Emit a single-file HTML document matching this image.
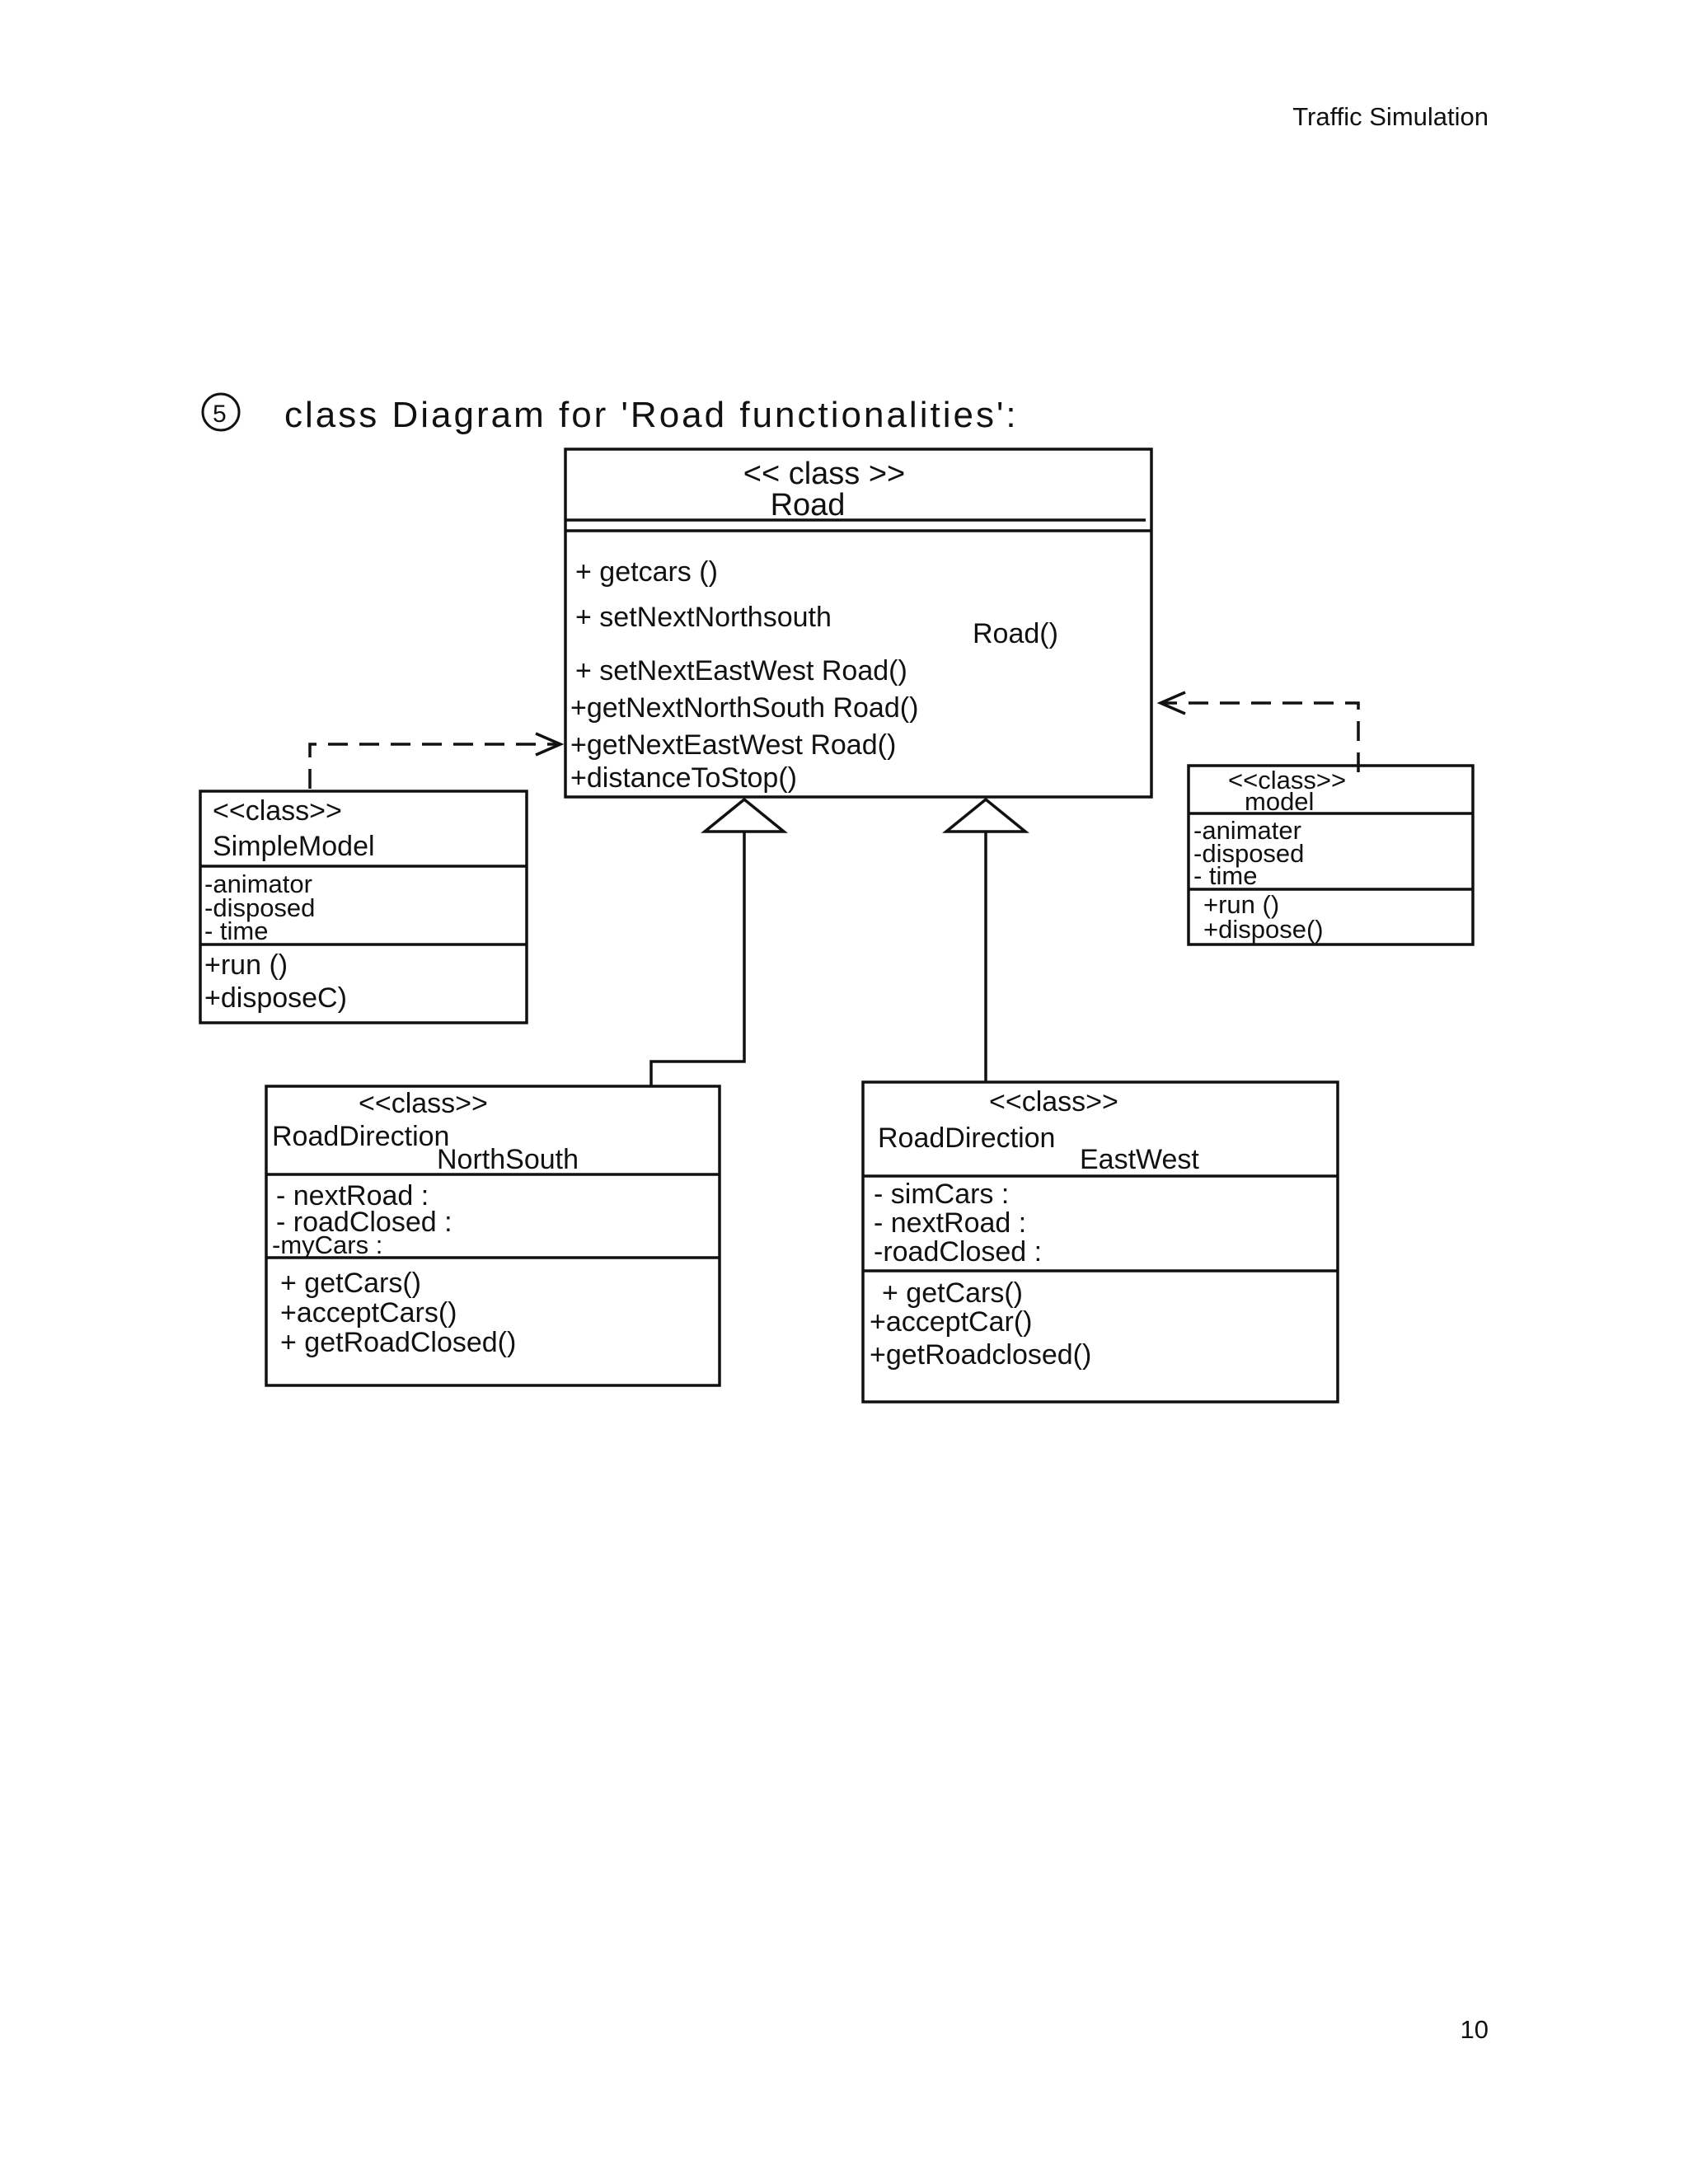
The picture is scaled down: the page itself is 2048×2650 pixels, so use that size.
<!DOCTYPE html>
<html><head><meta charset="utf-8"><style>
html,body{margin:0;padding:0;background:#fff;}
svg{display:block}
text{font-family:"Liberation Sans",sans-serif;fill:#111}
.h{font-size:38px}
.m{font-size:34px}
.s{font-size:31px}
</style></head><body>
<svg width="2048" height="2650" viewBox="0 0 2048 2650" xmlns="http://www.w3.org/2000/svg">
<rect width="2048" height="2650" fill="#fff"/>
<text x="1806" y="152" font-size="31" text-anchor="end">Traffic Simulation</text>
<text x="1806" y="2473" font-size="31" text-anchor="end">10</text>

<circle cx="268" cy="500" r="22" fill="none" stroke="#111" stroke-width="3"/>
<text x="258" y="512" font-size="30">5</text>
<text x="345" y="518" font-size="44" letter-spacing="3">class Diagram for 'Road functionalities':</text>

<g fill="none" stroke="#111" stroke-width="3.5">
<rect x="686" y="545" width="711" height="422"/>
<line x1="686" y1="631" x2="1390" y2="631"/><line x1="686" y1="644" x2="1397" y2="644"/>
<rect x="243" y="960" width="396" height="281"/>
<line x1="243" y1="1051" x2="639" y2="1051"/><line x1="243" y1="1146" x2="639" y2="1146"/>
<rect x="1442" y="929" width="345" height="217"/>
<line x1="1442" y1="987" x2="1787" y2="987"/><line x1="1442" y1="1079" x2="1787" y2="1079"/>
<rect x="323" y="1318" width="550" height="363"/>
<line x1="323" y1="1425" x2="873" y2="1425"/><line x1="323" y1="1526" x2="873" y2="1526"/>
<rect x="1047" y="1313" width="576" height="388"/>
<line x1="1047" y1="1427" x2="1623" y2="1427"/><line x1="1047" y1="1542" x2="1623" y2="1542"/>
<polygon points="903,970 855,1009 951,1009"/>
<polygon points="1196,970 1148,1009 1244,1009"/>
<polyline points="903,1009 903,1288 790,1288 790,1318"/>
<line x1="1196" y1="1009" x2="1196" y2="1313"/>
<polyline points="376,957 376,903 676,903" stroke-dasharray="24,14"/>
<polyline points="650,890 680,903 650,916"/>
<polyline points="1648,937 1648,853 1408,853" stroke-dasharray="24,14"/>
<polyline points="1438,840 1408,853 1438,866"/>
</g>

<text class="h" x="1000" y="587" text-anchor="middle">&lt;&lt; class &gt;&gt;</text>
<text class="h" x="980" y="625" text-anchor="middle">Road</text>
<text class="m" x="698" y="705">+ getcars ()</text>
<text class="m" x="698" y="760">+ setNextNorthsouth</text>
<text class="m" x="1180" y="780">Road()</text>
<text class="m" x="698" y="825">+ setNextEastWest Road()</text>
<text class="m" x="692" y="870">+getNextNorthSouth Road()</text>
<text class="m" x="692" y="915">+getNextEastWest Road()</text>
<text class="m" x="692" y="955">+distanceToStop()</text>

<text class="m" x="258" y="995">&lt;&lt;class&gt;&gt;</text>
<text class="m" x="258" y="1038">SimpleModel</text>
<text class="s" x="248" y="1083">-animator</text>
<text class="s" x="248" y="1112">-disposed</text>
<text class="s" x="248" y="1140">- time</text>
<text class="m" x="248" y="1182">+run ()</text>
<text class="m" x="248" y="1222">+disposeC)</text>

<text class="s" x="1490" y="957">&lt;&lt;class&gt;&gt;</text>
<text class="s" x="1510" y="983">model</text>
<text class="s" x="1448" y="1018">-animater</text>
<text class="s" x="1448" y="1046">-disposed</text>
<text class="s" x="1448" y="1073">- time</text>
<text class="s" x="1460" y="1108">+run ()</text>
<text class="s" x="1460" y="1138">+dispose()</text>

<text class="m" x="435" y="1350">&lt;&lt;class&gt;&gt;</text>
<text class="m" x="330" y="1390">RoadDirection</text>
<text class="m" x="530" y="1418">NorthSouth</text>
<text class="m" x="335" y="1462">- nextRoad :</text>
<text class="m" x="335" y="1494">- roadClosed :</text>
<text class="s" x="330" y="1521">-myCars :</text>
<text class="m" x="340" y="1568">+ getCars()</text>
<text class="m" x="340" y="1604">+acceptCars()</text>
<text class="m" x="340" y="1640">+ getRoadClosed()</text>

<text class="m" x="1200" y="1348">&lt;&lt;class&gt;&gt;</text>
<text class="m" x="1065" y="1392">RoadDirection</text>
<text class="m" x="1310" y="1418">EastWest</text>
<text class="m" x="1060" y="1460">- simCars :</text>
<text class="m" x="1060" y="1495">- nextRoad :</text>
<text class="m" x="1060" y="1530">-roadClosed :</text>
<text class="m" x="1070" y="1580">+ getCars()</text>
<text class="m" x="1055" y="1615">+acceptCar()</text>
<text class="m" x="1055" y="1655">+getRoadclosed()</text>
</svg>
</body></html>
